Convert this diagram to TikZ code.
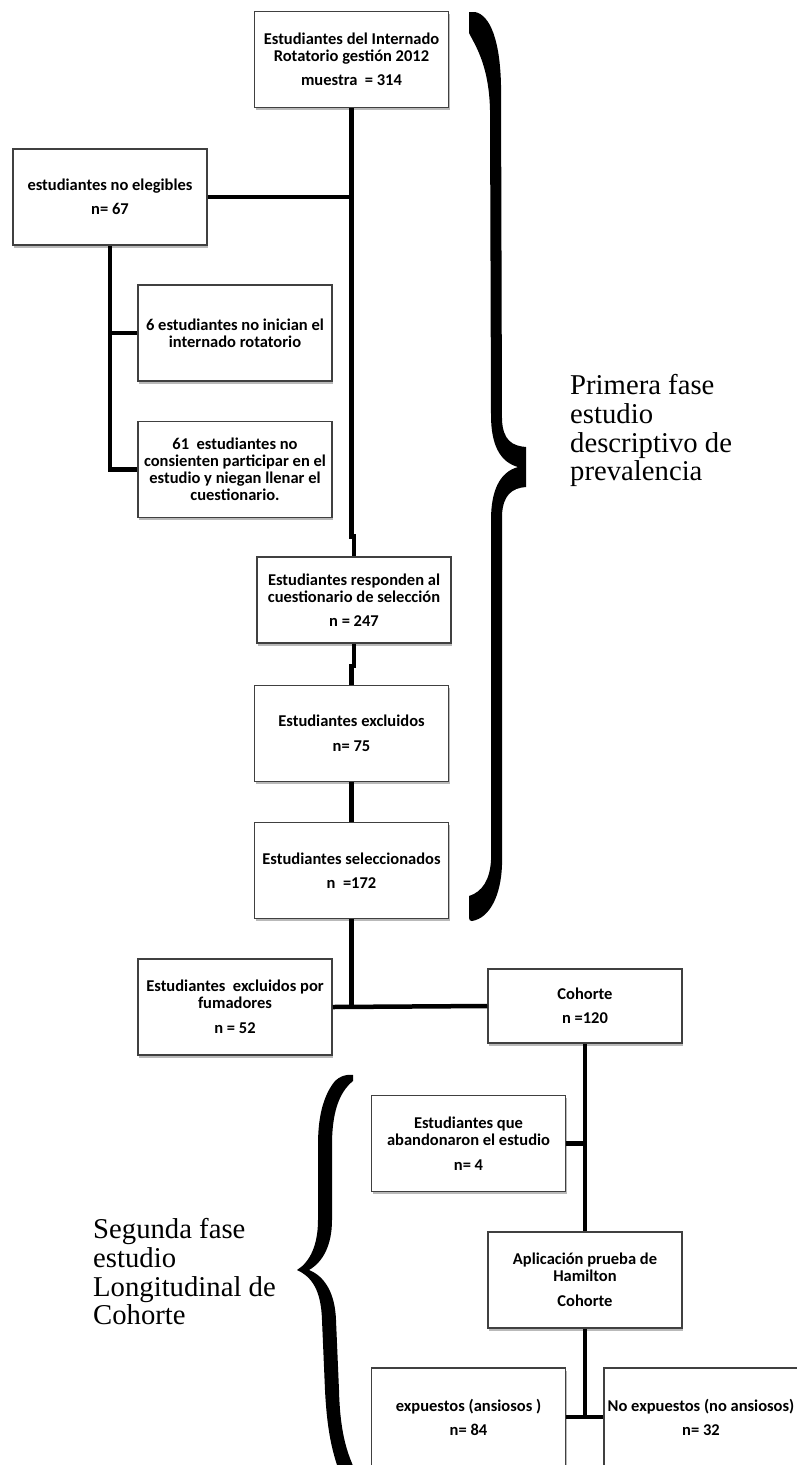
\documentclass[tikz,border=0pt]{standalone}
\usepackage{fontspec}
\setmainfont{Liberation Serif}
\newfontfamily\boxfont{Carlito}
\usetikzlibrary{shadows}
\tikzset{
  box/.style={draw=black!75, line width=1.5pt, fill=white,
    minimum width=194pt, minimum height=96pt, inner sep=1pt, align=center,
    font=\boxfont\bfseries\fontsize{16.5}{17}\selectfont,
    drop shadow={shadow xshift=1pt, shadow yshift=-2.5pt, fill=black!55, opacity=0.5}},
  conn/.style={line width=4.5pt, black, line join=miter},
  phase/.style={align=left, inner sep=0pt, anchor=north west,
    font=\fontsize{28.7}{28.6}\selectfont},
  bracefill/.style={fill=black}
}
\begin{document}
\begin{tikzpicture}[x=1pt, y=-1pt]
\useasboundingbox (0,0) rectangle (797,1465);

% boxes
\node[box] (top) at (351.5,59.5) {Estudiantes del Internado\\Rotatorio gestión 2012\\[7.5pt]muestra~ = 314};
\node[box] (noeleg) at (110,197) {estudiantes no elegibles\\[7.5pt]n= 67};
\node[box] (box6) at (235,333) {6 estudiantes no inician el\\internado rotatorio};
\node[box] (box61) at (235,469.5) {61~ estudiantes no\\consienten participar en el\\estudio y niegan llenar el\\cuestionario.};
\node[box, minimum height=86pt] (resp) at (354,600) {Estudiantes responden al\\cuestionario de selección\\[7.5pt]n = 247};
\node[box] (excl) at (351.5,733.5) {Estudiantes excluidos\\[7.5pt]n= 75};
\node[box] (sel) at (351.5,870.5) {Estudiantes seleccionados\\[7.5pt]n~ =172};
\node[box] (fum) at (235,1007) {Estudiantes~ excluidos por\\fumadores\\[8pt]n = 52};
\node[box, minimum height=74pt] (coh) at (585,1006) {Cohorte\\[7pt]n =120};
\node[box] (aband) at (468.5,1143.5) {Estudiantes que\\abandonaron el estudio\\[8pt]n= 4};
\node[box] (apli) at (585,1280) {Aplicación prueba de\\Hamilton\\[8pt]Cohorte};
\node[box, minimum height=98pt] (expu) at (468.5,1417) {expuestos (ansiosos )\\[7pt]n= 84};
\node[box, minimum height=98pt] (noexpu) at (701,1417) {No expuestos (no ansiosos)\\[7pt]n= 32};

% connectors
\draw[conn] (top.south) -- ++(0,428) -| (resp.north);
\draw[conn] (noeleg.east) -- (top.south |- noeleg.east);
\draw[conn] (noeleg.south) |- (box61.west);
\draw[conn] (box6.west) -- (noeleg.south |- box6.west);
\draw[conn] (resp.south) -- ++(0,22) -| (excl.north);
\draw[conn] (excl.south) -- (sel.north);
\draw[conn] (sel.south) -- (sel.south |- fum.east);
\draw[conn] (fum.east) -- (coh.west);
\draw[conn] (coh.south) -- (apli.north);
\draw[conn] (aband.east) -- (coh.south |- aband.east);
\draw[conn] (apli.south) -- (apli.south |- expu.east);
\draw[conn] (expu.east) -- (noexpu.west);

% upper brace
\fill[bracefill] (469,12) -- (475,12) .. controls (490,15) and (500,40) .. (501,85)
  -- (502,420) .. controls (503,440) and (512,446) .. (526,447)
  -- (526,487) .. controls (512,488) and (503,495) .. (502,515)
  -- (502,865) .. controls (501,895) and (490,918) .. (472,921)
  .. controls (470,921) and (469,920) .. (469,918)
  -- (469,896) .. controls (482,892) and (490,880) .. (491,860)
  -- (491,520) .. controls (491,490) and (500,472) .. (518,467)
  .. controls (500,462) and (491,445) .. (491,415)
  -- (490,110) .. controls (489,65) and (475,45) .. (469,33) -- cycle;

% lower brace
\fill[bracefill] (353,1075) .. controls (345,1074) and (337,1077) .. (332,1085)
  .. controls (322,1100) and (318,1120) .. (318,1145)
  -- (318,1220) .. controls (318,1245) and (310,1262) .. (297,1270)
  .. controls (312,1277) and (321,1290) .. (322,1320)
  -- (325,1390) .. controls (327,1430) and (332,1450) .. (338,1468)
  -- (354,1468) .. controls (346,1450) and (340,1430) .. (339,1390)
  -- (336,1320) .. controls (335,1292) and (324,1276) .. (309,1270)
  .. controls (323,1262) and (332,1245) .. (332,1220)
  -- (332,1145) .. controls (332,1115) and (338,1093) .. (353,1081) -- cycle;

% phase labels
\node[phase] (ph1) at (570,374.5) {Primera fase\\estudio\\descriptivo de\\prevalencia};
\node[phase] (ph2) at (93,1218.5) {Segunda fase\\estudio\\Longitudinal de\\Cohorte};
\end{tikzpicture}
\end{document}
